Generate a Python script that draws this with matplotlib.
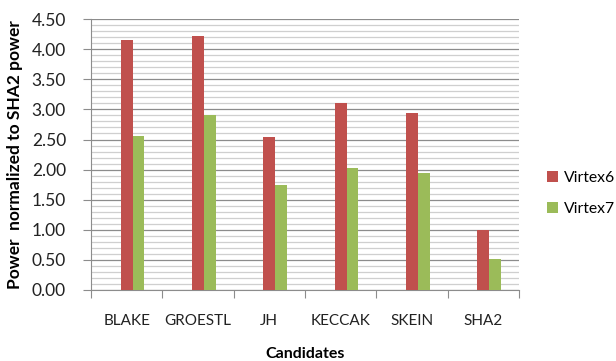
import matplotlib
matplotlib.use('Agg')
import matplotlib.pyplot as plt
import numpy as np
from matplotlib.ticker import MultipleLocator, FormatStrFormatter

candidates = ['BLAKE', 'GROESTL', 'JH', 'KECCAK', 'SKEIN', 'SHA2']
virtex6 = [4.16, 4.22, 2.54, 3.11, 2.94, 1.00]
virtex7 = [2.56, 2.90, 1.74, 2.02, 1.94, 0.51]

plt.rcParams['font.family'] = ['Lato', 'DejaVu Sans']

fig = plt.figure(figsize=(6.16, 3.61), dpi=100)
ax = fig.add_axes([0.1477, 0.1967, 0.6948, 0.7503])

x = np.arange(len(candidates))
w = 0.165
ax.bar(x, virtex6, width=w, color='#C0504D', label='Virtex6', zorder=3)
ax.bar(x + w, virtex7, width=w, color='#9BBB59', label='Virtex7', zorder=3)

ax.set_xlim(-0.5, len(candidates) - 0.5)
ax.set_ylim(0, 4.5)
ax.yaxis.set_major_locator(MultipleLocator(0.5))
ax.yaxis.set_minor_locator(MultipleLocator(0.1))
ax.yaxis.set_major_formatter(FormatStrFormatter('%.2f'))
ax.grid(axis='y', which='major', color='#8c8c8c', linewidth=0.9, zorder=0)
ax.grid(axis='y', which='minor', color='#cfcfcf', linewidth=0.9, zorder=0)

# category ticks sit on the boundaries, labels in the middle
ax.set_xticks(np.arange(len(candidates) + 1) - 0.5)
ax.set_xticklabels([])
ax.set_xticks(x, minor=True)
ax.set_xticklabels(candidates, minor=True)
ax.tick_params(axis='x', which='major', length=6, color='#8c8c8c', direction='out')
ax.tick_params(axis='x', which='minor', length=0, pad=17, labelsize=11, labelcolor='#222222')
ax.tick_params(axis='y', which='major', length=6, color='#8c8c8c', pad=12,
               labelsize=12.5, labelcolor='#222222')
ax.tick_params(axis='y', which='minor', length=0)

for s in ['top', 'right']:
    ax.spines[s].set_visible(False)
for s in ['left', 'bottom']:
    ax.spines[s].set_color('#8c8c8c')

ax.set_xlabel('Candidates', fontsize=11.5, fontweight='bold', labelpad=14)
ax.set_ylabel('Power  normalized to SHA2 power', fontsize=12.5, fontweight='bold', labelpad=6)

ax.legend(loc='center left', bbox_to_anchor=(0.888, 0.464), bbox_transform=fig.transFigure,
          frameon=False, borderpad=0, borderaxespad=0, fontsize=11.3,
          handlelength=0.7, handleheight=0.7, labelspacing=1.1, handletextpad=0.4)

fig.savefig('out.png', dpi=100)
